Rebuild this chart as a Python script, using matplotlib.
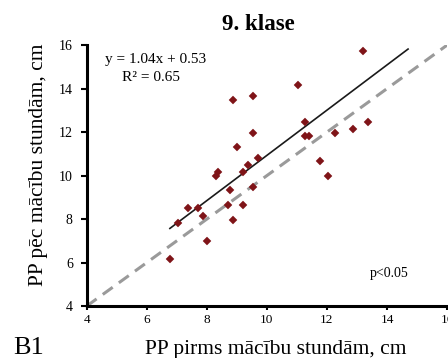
import numpy as np
import matplotlib
matplotlib.use("Agg")
import matplotlib.pyplot as plt

# data
pp_before = [13.20, 11.03, 8.86, 9.54, 11.27, 13.35, 9.54, 11.28, 11.40, 12.28,
             12.86, 9.02, 9.70, 11.78, 9.37, 8.37, 8.29, 9.20, 12.03, 8.78,
             9.54, 8.69, 9.20, 7.37, 7.70, 7.88, 7.04, 8.86, 8.02, 6.77]
pp_after = [15.72, 14.15, 13.49, 13.66, 12.48, 12.48, 11.97, 11.82, 11.82, 11.97,
            12.14, 11.31, 10.80, 10.65, 10.48, 10.16, 9.99, 10.16, 9.99, 9.32,
            9.49, 8.66, 8.66, 8.49, 8.49, 8.15, 7.83, 7.98, 6.99, 6.16]
slope = 1.04
intercept = 0.53
trend_x = [6.77, 14.7]
diag = [4, 16]
ticks = [4, 6, 8, 10, 12, 14, 16]

plt.rcParams['font.family'] = ['Liberation Serif', 'DejaVu Serif']

fig = plt.figure(figsize=(4.48, 3.58), dpi=100)
ax = fig.add_axes([0.1935, 0.145, 0.8045, 0.729])

ax.plot(diag, diag, color='#9a9a9a', lw=2.2, dashes=(4, 2.5), zorder=1)
tx = np.array(trend_x)
ax.plot(tx, slope * tx + intercept, color='#1a1a1a', lw=1.2, zorder=2)
ax.plot(pp_before, pp_after, 'D', color='#7f1418', markersize=4.5, mew=0.3, lw=0, zorder=3)

ax.set_xlim(4, 16)
ax.set_ylim(4, 16)
ax.set_xticks(ticks)
ax.set_yticks(ticks)
ax.tick_params(axis='x', labelsize=9.5, direction='out', length=3, width=1.5, pad=3)
ax.tick_params(axis='y', labelsize=10, direction='out', length=4, width=1.5, pad=6)
for s in ['top', 'right']:
    ax.spines[s].set_visible(False)
for s in ['left', 'bottom']:
    ax.spines[s].set_linewidth(2.2)

fig.text(0.615, 1 - 354 / 358, "PP pirms mācību stundām, cm", fontsize=15.5,
         ha='center', va='baseline')
fig.text(0.087, 0.54, "PP pēc mācību stundām, cm", fontsize=15.5,
         ha='center', va='center', rotation=90)
fig.text(0.576, 0.916, "9. klase", fontsize=16.5, fontweight='bold',
         ha='center', va='baseline')

ax.text(0.051, 0.943, "y = 1.04x + 0.53", transform=ax.transAxes, fontsize=11, va='center')
ax.text(0.179, 0.874, "R² = 0.65", transform=ax.transAxes, fontsize=11, va='center', ha='center')
ax.text(0.838, 0.126, "p<0.05", transform=ax.transAxes, fontsize=10, va='center', ha='center')

fig.text(13 / 448, 1 - 354 / 358, "B1", fontsize=19, va='baseline')

fig.savefig("out.png", dpi=100)
